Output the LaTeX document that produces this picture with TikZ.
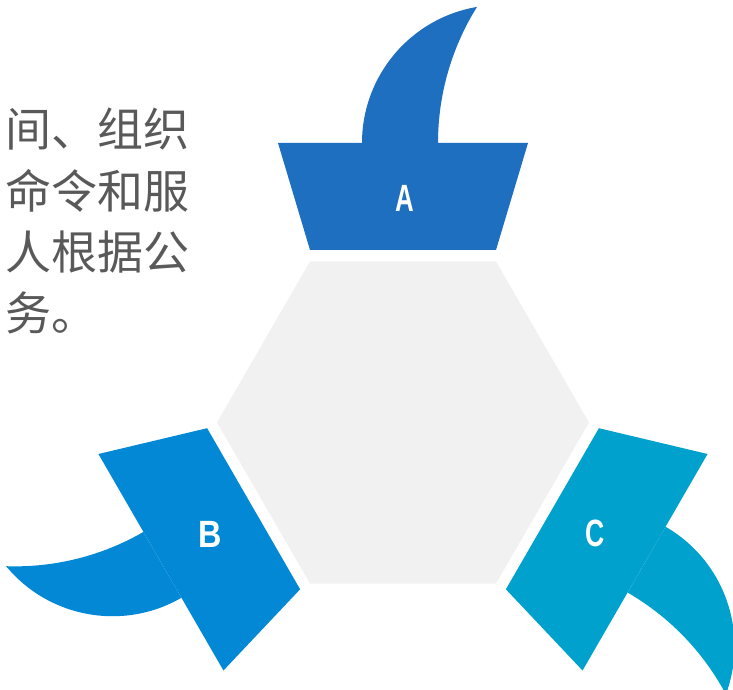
\documentclass[tikz,border=0pt]{standalone}
\usepackage{fontspec}
\usepackage{graphicx}
\setmainfont{Liberation Sans}
\newfontfamily\cjk{Noto Sans CJK SC}
\definecolor{colA}{RGB}{31,111,193}
\definecolor{colB}{RGB}{2,136,212}
\definecolor{colC}{RGB}{0,161,205}
\definecolor{hexfill}{RGB}{241,241,241}
\definecolor{txtgray}{RGB}{89,89,89}
\tikzset{
  bodytext/.style={anchor=base west, inner sep=0pt, text=txtgray, font=\cjk\fontsize{46}{55}\selectfont},
  letter/.style={anchor=center, inner sep=0pt, text=white, font=\bfseries\fontsize{38}{40}\selectfont},
}
\newcommand{\petalshape}[2]{%
  \begin{scope}[shift={(403,267.5)}, rotate=#1]
    \fill[#2] (-41,279.5) arc[start angle=180, end angle=99.6, radius=138]
                 arc[start angle=148, end angle=180, radius=256.6] -- cycle;
    \fill[#2] (-125,279.5) -- (125,279.5) -- (93,172.5) -- (-93,172.5) -- cycle;
  \end{scope}}
\begin{document}
\begin{tikzpicture}[x=1pt, y=1pt]
  \useasboundingbox (0,0) rectangle (733,690);
  \clip (0,0) rectangle (733,690);
  % central hexagon
  \fill[hexfill] (589,267.5) -- (496,428.6) -- (310,428.6) -- (217,267.5) -- (310,106.4) -- (496,106.4) -- cycle;
  % petals
  \petalshape{0}{colA}
  \petalshape{120}{colB}
  \petalshape{-120}{colC}
  % labels
  \node[letter] (la) at (405,491.5) {\scalebox{0.68}[1]{A}};
  \node[letter] (lb) at (210,156) {\scalebox{0.85}[1]{B}};
  \node[letter] (lc) at (595,157) {\scalebox{0.7}[1]{C}};
  % body text (cropped paragraph)
  \node[bodytext] (t1) at (5,543.5) {间、组织};
  \node[bodytext] (t2) at (5,481.5) {命令和服};
  \node[bodytext] (t3) at (5,420) {人根据公};
  \node[bodytext] (t4) at (5,359) {务。};
\end{tikzpicture}
\end{document}
